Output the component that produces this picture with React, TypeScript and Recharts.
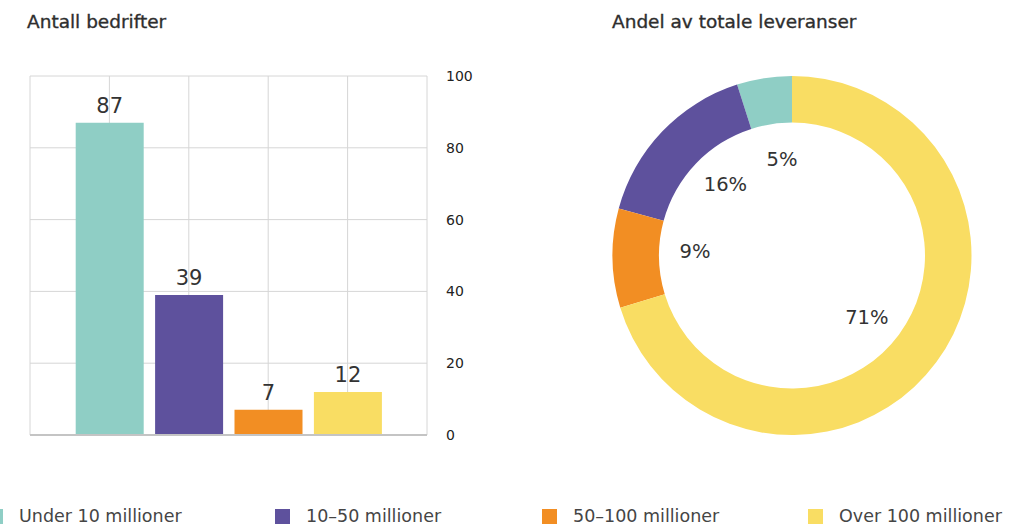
import { BarChart, Bar, XAxis, YAxis, CartesianGrid, ReferenceLine, LabelList, Cell, PieChart, Pie } from 'recharts';

const CATEGORIES = ['Under 10 millioner', '10–50 millioner', '50–100 millioner', 'Over 100 millioner'];
const COLORS = ['#8fcec5', '#5e519d', '#f28e23', '#f9dd63'];
const COMPANY_COUNTS = [87, 39, 7, 12];
const DELIVERY_SHARES = [5, 16, 9, 71];
const Y_TICKS = [0, 20, 40, 60, 80, 100];
const X_TICKS = [0, 1, 2, 3, 4, 5];

const FONT = '"DejaVu Sans", Inter, sans-serif';
const TEXT = '#333333';

const barData = CATEGORIES.map((name, i) => ({ name, pos: i + 1, value: COMPANY_COUNTS[i] }));
const pieData = CATEGORIES.map((name, i) => ({ name, value: DELIVERY_SHARES[i] }));

const RADIAN = Math.PI / 180;

function renderPieLabel(props: any) {
  const { cx, cy, midAngle, innerRadius, value } = props;
  const r = innerRadius - 36;
  const a = midAngle - 3;
  const x = cx + r * Math.cos(-a * RADIAN);
  const y = cy + r * Math.sin(-a * RADIAN);
  return (
    <text x={x} y={y} textAnchor="middle" dominantBaseline="central" fill={TEXT} fontSize={19.5} fontFamily={FONT}>
      {`${value}%`}
    </text>
  );
}

const legendLeft = [-12, 275, 542, 808];

const titleStyle = {
  position: 'absolute' as const,
  top: 12,
  fontSize: 18.5,
  lineHeight: '20px',
  color: '#2e2e2e',
  WebkitTextStroke: '0.35px #2e2e2e',
};

export default function App() {
  return (
    <div style={{ position: 'absolute', left: 0, top: 0, width: 1029, height: 527, overflow: 'hidden', background: '#fff', fontFamily: FONT }}>
      <div style={{ ...titleStyle, left: 27 }}>Antall bedrifter</div>
      <div style={{ ...titleStyle, left: 612 }}>Andel av totale leveranser</div>

      <div style={{ position: 'absolute', left: 0, top: 0 }}>
        <BarChart width={500} height={460} data={barData} margin={{ top: 76, right: 0, bottom: 25, left: 30 }}>
          <CartesianGrid stroke="#d6d6d6" strokeWidth={1} />
          <XAxis
            type="number"
            dataKey="pos"
            domain={[0, 5]}
            ticks={X_TICKS}
            height={0}
            tick={() => <g />}
            axisLine={false}
            tickLine={false}
          />
          <YAxis
            orientation="right"
            domain={[0, 100]}
            ticks={Y_TICKS}
            width={73}
            axisLine={false}
            tickLine={false}
            tickSize={0}
            tickMargin={19}
            tick={{ fontSize: 14, fill: '#222', fontFamily: FONT }}
          />
          <ReferenceLine y={0} stroke="#c4c4c4" strokeWidth={2} />
          <Bar dataKey="value" barSize={68} isAnimationActive={false}>
            {barData.map((d, i) => (
              <Cell key={d.name} fill={COLORS[i]} />
            ))}
            <LabelList dataKey="value" position="top" offset={10} fill={TEXT} fontSize={21} fontFamily={FONT} />
          </Bar>
        </BarChart>
      </div>

      <div style={{ position: 'absolute', left: 560, top: 0 }}>
        <PieChart width={469} height={480} margin={{ top: 0, right: 0, bottom: 0, left: 0 }}>
          <Pie
            data={pieData}
            dataKey="value"
            nameKey="name"
            cx={232}
            cy={255.5}
            innerRadius={133}
            outerRadius={179.5}
            startAngle={90}
            endAngle={450}
            stroke="none"
            label={renderPieLabel}
            labelLine={false}
            isAnimationActive={false}
          >
            {pieData.map((d, i) => (
              <Cell key={d.name} fill={COLORS[i]} />
            ))}
          </Pie>
        </PieChart>
      </div>

      {CATEGORIES.map((name, i) => (
        <div key={name} style={{ position: 'absolute', left: legendLeft[i], top: 506, height: 20, display: 'flex', alignItems: 'center', whiteSpace: 'nowrap' }}>
          <span style={{ display: 'inline-block', width: 15, height: 15, background: COLORS[i], marginRight: 16 }} />
          <span style={{ fontSize: 17.5, color: '#454545' }}>{name}</span>
        </div>
      ))}
    </div>
  );
}
